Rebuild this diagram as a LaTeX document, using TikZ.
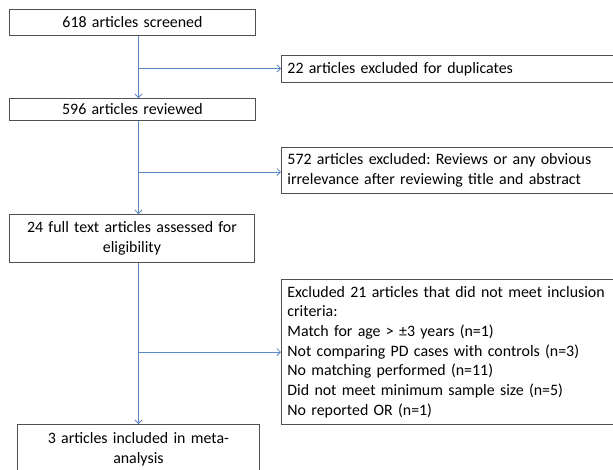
\documentclass[tikz,border=0pt]{standalone}
\usepackage{fontspec}
\setmainfont{Carlito}
\usetikzlibrary{arrows.meta}
\definecolor{boxline}{HTML}{505050}
\definecolor{arrblue}{HTML}{5B87C9}
\begin{document}
\frenchspacing
\begin{tikzpicture}[x=1pt,y=-1pt,
  bx/.style={draw=boxline, line width=0.9pt, rectangle, anchor=north west,
    inner xsep=6pt, inner ysep=0pt, text=black,
    font=\fontsize{15.9}{19.7}\selectfont},
  cbx/.style={bx, align=center},
  lbx/.style={bx, align=left},
  arr/.style={draw=arrblue, line width=0.8pt, -{Straight Barb[length=3.5pt,width=7pt]}}
]
\clip (0,0) rectangle (613,469);
\fill[white] (0,0) rectangle (613,469);

\node[cbx, text width=234pt, minimum width=246pt, minimum height=26pt] (b1) at (9,9) {618 articles screened};
\node[lbx, text width=340pt, minimum width=352pt, minimum height=27pt] (b22) at (281,55) {22 articles excluded for duplicates};
\node[cbx, text width=234pt, minimum width=246pt, minimum height=22pt] (b2) at (9,98) {596 articles reviewed};
\node[lbx, text width=340pt, minimum width=352pt, minimum height=46pt] (b572) at (281,147) {572 articles excluded: Reviews or any obvious\\irrelevance after reviewing title and abstract};
\node[cbx, text width=233pt, minimum width=245pt, minimum height=48pt] (b3) at (9,214) {24 full text articles assessed for\\eligibility};
\node[lbx, text width=340pt, minimum width=352pt, minimum height=145pt] (bex) at (281,279) {Excluded 21 articles that did not meet inclusion\\criteria:\\Match for age > ±3 years (n=1)\\Not comparing PD cases with controls (n=3)\\No matching performed (n=11)\\Did not meet minimum sample size (n=5)\\No reported OR (n=1)};
\node[cbx, text width=230pt, minimum width=242pt, minimum height=50pt] (b4) at (17,424) {3 articles included in meta-\\analysis};

\coordinate (trunk) at (138.5,0);
\coordinate (j1) at (138.5,68.5);
\coordinate (j2) at (138.5,172);
\coordinate (j3) at (138.5,352);

\draw[arr] (b1.south -| trunk) -- (b2.north -| trunk);
\draw[arr] (b2.south -| trunk) -- (b3.north -| trunk);
\draw[arr] (b3.south -| trunk) -- (b4.north -| trunk);
\draw[arr] (j1) -- (j1 -| b22.west);
\draw[arr] (j2) -- (j2 -| b572.west);
\draw[arr] (j3) -- (j3 -| bex.west);
\end{tikzpicture}
\end{document}
